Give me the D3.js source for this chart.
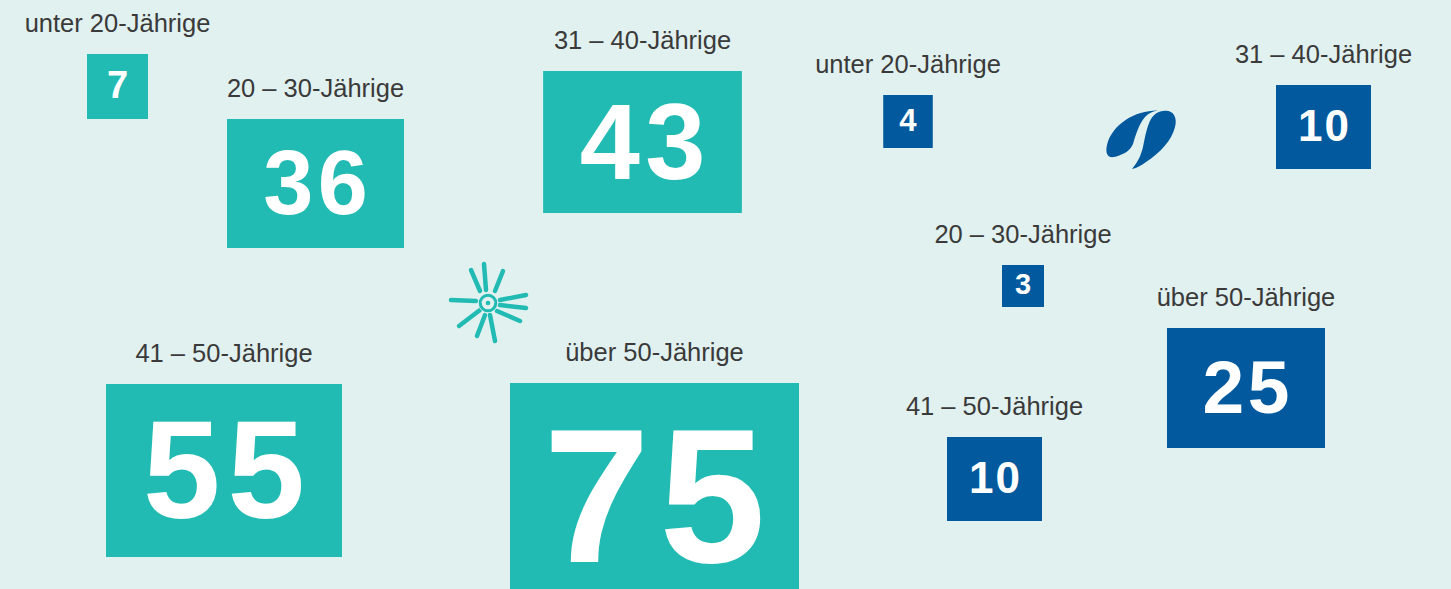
<!DOCTYPE html>
<html>
<head>
    <meta charset="utf-8">
    <title>Altersgruppen</title>
    <script src="https://cdn.jsdelivr.net/npm/d3@7/dist/d3.min.js"></script>
    <style>
        html, body { margin: 0; padding: 0; background: #e1f1f0; }
        svg { display: block; }
        .label { font-family: "Liberation Sans", Arial, sans-serif; font-size: 25.5px; fill: #3a3a3a; }
        .num { font-family: "Liberation Sans", Arial, sans-serif; font-weight: bold; fill: #fff; }
    </style>
</head>
<body>
<script>
    var width = 1451,
        height = 589,
        gap = 22,
        spacing = 0.05; // letter-spacing of the big numbers, em

    // age groups and counts (teal group left, blue group right)
    var categories = ["unter 20-Jährige", "20 – 30-Jährige", "31 – 40-Jährige", "41 – 50-Jährige", "über 50-Jährige"];
    var tealValues = [7, 36, 43, 55, 75];
    var blueValues = [4, 3, 10, 10, 25];

    // where each label sits (centre x, label baseline)
    var tealPos = [[117.5, 32], [315.5, 97], [642.5, 49], [224, 362], [654.5, 361]];
    var bluePos = [[908, 73], [1023, 243], [1323.5, 63], [994.5, 415], [1246, 306]];

    var teal = "#22bbb3", blue = "#02599d";

    var tealW = d3.scaleLinear().domain([7, 36, 55, 75]).range([61, 177, 236, 289]),
        tealH = d3.scaleLinear().domain([7, 36, 43, 55]).range([65, 129, 142, 173]),
        tealF = d3.scaleLinear().domain([7, 36, 75]).range([38, 90, 191]);
    var blueW = d3.scaleLinear().domain([3, 10, 25]).range([42, 95, 158]),
        blueH = d3.scaleLinear().domain([3, 4, 10, 25]).range([42, 53, 84, 120]),
        blueF = d3.scaleLinear().domain([3, 10, 25]).range([29, 44, 75]);

    var svg = d3.select("body").append("svg")
        .attr("width", width)
        .attr("height", height);

    svg.append("rect")
        .attr("width", width)
        .attr("height", height)
        .attr("fill", "#e1f1f0");

    renderGroup(tealValues, tealPos, teal, tealW, tealH, tealF);
    renderGroup(blueValues, bluePos, blue, blueW, blueH, blueF);
    renderStar(488, 303);
    renderSwoosh();

    function renderGroup(values, pos, color, w, h, f) {
        var data = values.map(function(v, i) {
            return {cat: categories[i], v: v, x: pos[i][0], y: pos[i][1]};
        });
        var g = svg.append("g").selectAll("g")
            .data(data)
          .enter().append("g");

        g.append("text")
            .attr("class", "label")
            .attr("x", function(d) { return d.x; })
            .attr("y", function(d) { return d.y; })
            .attr("text-anchor", "middle")
            .text(function(d) { return d.cat; });

        g.append("rect")
            .attr("x", function(d) { return d.x - w(d.v) / 2; })
            .attr("y", function(d) { return d.y + gap; })
            .attr("width", function(d) { return w(d.v); })
            .attr("height", function(d) { return h(d.v); })
            .attr("fill", color);

        g.append("text")
            .attr("class", "num")
            .attr("x", function(d) { return d.x + f(d.v) * spacing / 2; })
            .attr("y", function(d) { return d.y + gap + h(d.v) / 2 + f(d.v) * 0.716 / 2 - 2; })
            .attr("text-anchor", "middle")
            .style("font-size", function(d) { return f(d.v) + "px"; })
            .style("letter-spacing", spacing + "em")
            .text(function(d) { return d.v; });
    }

    function renderStar(cx, cy) {
        // rays: [outer dx, outer dy, inner dx, inner dy]
        var rays = [
            [-17, -33, -8, -12], [-4, -39, -2, -13], [15, -32, 7, -12],
            [38, -8, 12, -3], [38, 5, 12, 2], [32, 18, 9, 8],
            [7, 38, 2, 12], [-11, 33, -3, 12], [-29, 23, -8, 7],
            [-37, -3, -12, -2]
        ];
        var g = svg.append("g").attr("transform", "translate(" + cx + "," + cy + ")");
        g.selectAll("line")
            .data(rays)
          .enter().append("line")
            .attr("x1", function(d) { return d[0]; })
            .attr("y1", function(d) { return d[1]; })
            .attr("x2", function(d) { return d[2]; })
            .attr("y2", function(d) { return d[3]; })
            .attr("stroke", teal)
            .attr("stroke-width", 4.5)
            .attr("stroke-linecap", "round");
        g.append("circle").attr("r", 10).attr("fill", "#e1f1f0");
        g.append("circle").attr("r", 7.8).attr("fill", "none")
            .attr("stroke", teal).attr("stroke-width", 3);
        g.append("circle").attr("r", 2.3).attr("fill", teal);
    }

    function renderSwoosh() {
        var g = svg.append("g").attr("fill", blue);
        // left half of the bean
        g.append("path")
            .attr("d", "M1158,110.5 C1136,110 1112,124 1107,145 C1105,154 1108,158 1114,157 " +
                       "C1123,155 1130,151 1133,144 C1136,134 1139,124 1145,117 " +
                       "C1149,113 1153,111 1158,110.5 Z");
        // right half
        g.append("path")
            .attr("d", "M1163,111 C1172,109 1178,116 1175,127 C1172,140 1160,153 1146,162 " +
                       "C1142,165 1137,168 1132,169 C1138,162 1141,155 1143,147 " +
                       "C1145,137 1147,126 1151,119 C1154,114 1158,111.5 1163,111 Z");
    }
</script>
</body>
</html>
